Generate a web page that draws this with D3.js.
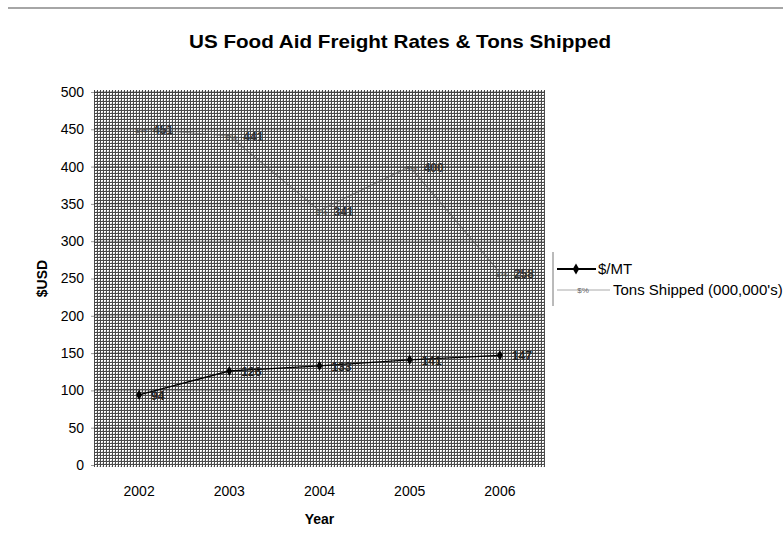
<!DOCTYPE html>
<html>
<head>
<meta charset="utf-8">
<script src="https://cdn.jsdelivr.net/npm/d3@7"></script>
<style>
body { margin: 0; background: #fff; }
text { font-family: "Liberation Sans", Arial, sans-serif; }
</style>
</head>
<body>
<div id="chart"></div>
<script>
var years = ["2002", "2003", "2004", "2005", "2006"]
var ratePerMT = [94, 126, 133, 141, 147]
var tonsShipped = [451, 441, 341, 400, 258]
var yTicks = [0, 50, 100, 150, 200, 250, 300, 350, 400, 450, 500]

var W = 783, H = 541
var margin = {top: 92, right: 238, bottom: 76, left: 94}
var width = W - margin.left - margin.right,
    height = H - margin.top - margin.bottom

var svg = d3.select("#chart").append("svg")
  .attr("width", W).attr("height", H)

// dithered plot background
var defs = svg.append("defs")
var pat = defs.append("pattern")
  .attr("id", "dither").attr("width", 3).attr("height", 3)
  .attr("patternUnits", "userSpaceOnUse")
pat.append("rect").attr("width", 3).attr("height", 3).attr("fill", "#fff")
pat.append("rect").attr("width", 3).attr("height", 1).attr("fill", "#4a4a4a")
pat.append("rect").attr("width", 1).attr("height", 3).attr("fill", "#4a4a4a")
pat.append("rect").attr("x", 2).attr("y", 2).attr("width", 1).attr("height", 1).attr("fill", "#ccc")

// top rule
svg.append("line")
  .attr("x1", 8).attr("x2", W).attr("y1", 8).attr("y2", 8)
  .attr("stroke", "#888").attr("stroke-width", 1.5)

svg.append("text")
  .attr("x", 400).attr("y", 48)
  .attr("text-anchor", "middle")
  .attr("textLength", 422).attr("lengthAdjust", "spacingAndGlyphs")
  .style("font-size", "19px").style("font-weight", "bold")
  .text("US Food Aid Freight Rates & Tons Shipped")

var g = svg.append("g")
  .attr("transform", "translate(" + margin.left + "," + margin.top + ")")

var x = d3.scaleBand().domain(years).range([0, width])
var y = d3.scaleLinear().domain([0, 500]).range([height, 0])

g.append("rect")
  .attr("x", 0).attr("y", -2).attr("width", width).attr("height", height + 4)
  .attr("fill", "url(#dither)")

// gridlines
g.selectAll(".grid").data(yTicks.slice(1)).enter().append("line")
  .attr("x1", 0).attr("x2", width)
  .attr("y1", function(d) { return y(d) }).attr("y2", function(d) { return y(d) })
  .attr("stroke", "#222").attr("stroke-width", 1).attr("opacity", 0.4)

// axes
var yAxis = g.append("g")
  .call(d3.axisLeft(y).tickValues(yTicks).tickSize(3).tickPadding(7))
yAxis.select(".domain").remove()
yAxis.selectAll("text").style("font-size", "14px").attr("fill", "#000")
yAxis.selectAll("line").attr("stroke", "#999")

var xAxis = g.append("g")
  .attr("transform", "translate(0," + (height + 2) + ")")
  .call(d3.axisBottom(x).tickSize(0).tickPadding(19))
xAxis.select(".domain").remove()
xAxis.selectAll("text").style("font-size", "14px").attr("fill", "#000")

svg.append("text")
  .attr("transform", "translate(47," + (margin.top + height / 2) + ")rotate(-90)")
  .attr("text-anchor", "middle")
  .style("font-size", "14px").style("font-weight", "bold")
  .text("$USD")

svg.append("text")
  .attr("x", margin.left + width / 2).attr("y", 524)
  .attr("text-anchor", "middle")
  .style("font-size", "14px").style("font-weight", "bold")
  .text("Year")

var cx = function(i) { return x(years[i]) + x.bandwidth() / 2 }
var line = d3.line()
  .x(function(d, i) { return cx(i) })
  .y(function(d) { return y(d) })

// Tons shipped series
g.append("path").datum(tonsShipped)
  .attr("d", line).attr("fill", "none")
  .attr("stroke", "#555").attr("stroke-width", 1.2).attr("opacity", 0.6)
g.selectAll(".tmark").data(tonsShipped).enter().append("text")
  .attr("x", function(d, i) { return cx(i) + 2 }).attr("y", function(d) { return y(d) + 4 })
  .attr("text-anchor", "middle").style("font-size", "8px").attr("fill", "#444")
  .text("$%")
g.selectAll(".tlab").data(tonsShipped).enter().append("text")
  .attr("x", function(d, i) { return cx(i) + 14 }).attr("y", function(d) { return y(d) + 5 })
  .style("font-size", "12px").style("font-weight", "bold").attr("fill", "#333")
  .text(function(d) { return d })

// $/MT series
g.append("path").datum(ratePerMT)
  .attr("d", line).attr("fill", "none")
  .attr("stroke", "#000").attr("stroke-width", 1.3)
g.selectAll(".rmark").data(ratePerMT).enter().append("path")
  .attr("d", d3.symbol(d3.symbolDiamond, 30))
  .attr("transform", function(d, i) { return "translate(" + cx(i) + "," + y(d) + ")" })
  .attr("fill", "#000")
g.selectAll(".rlab").data(ratePerMT).enter().append("text")
  .attr("x", function(d, i) { return cx(i) + 12 }).attr("y", function(d) { return y(d) + 5 })
  .style("font-size", "12px").style("font-weight", "bold").attr("fill", "#222")
  .text(function(d) { return d })

// legend
var lg = svg.append("g")
lg.append("line").attr("x1", 553).attr("x2", 553).attr("y1", 252).attr("y2", 306)
  .attr("stroke", "#777")
lg.append("line").attr("x1", 557).attr("x2", 596).attr("y1", 269).attr("y2", 269)
  .attr("stroke", "#000").attr("stroke-width", 2)
lg.append("path").attr("d", d3.symbol(d3.symbolDiamond, 36))
  .attr("transform", "translate(576,269)").attr("fill", "#000")
lg.append("text").attr("x", 598).attr("y", 274)
  .style("font-size", "15px").text("$/MT")
lg.append("line").attr("x1", 557).attr("x2", 610).attr("y1", 290).attr("y2", 290)
  .attr("stroke", "#aaa").attr("stroke-width", 1)
lg.append("text").attr("x", 583).attr("y", 293).attr("text-anchor", "middle")
  .style("font-size", "8px").attr("fill", "#666").text("$%")
lg.append("text").attr("x", 613).attr("y", 295)
  .style("font-size", "15px").text("Tons Shipped (000,000's)")
</script>
</body>
</html>
